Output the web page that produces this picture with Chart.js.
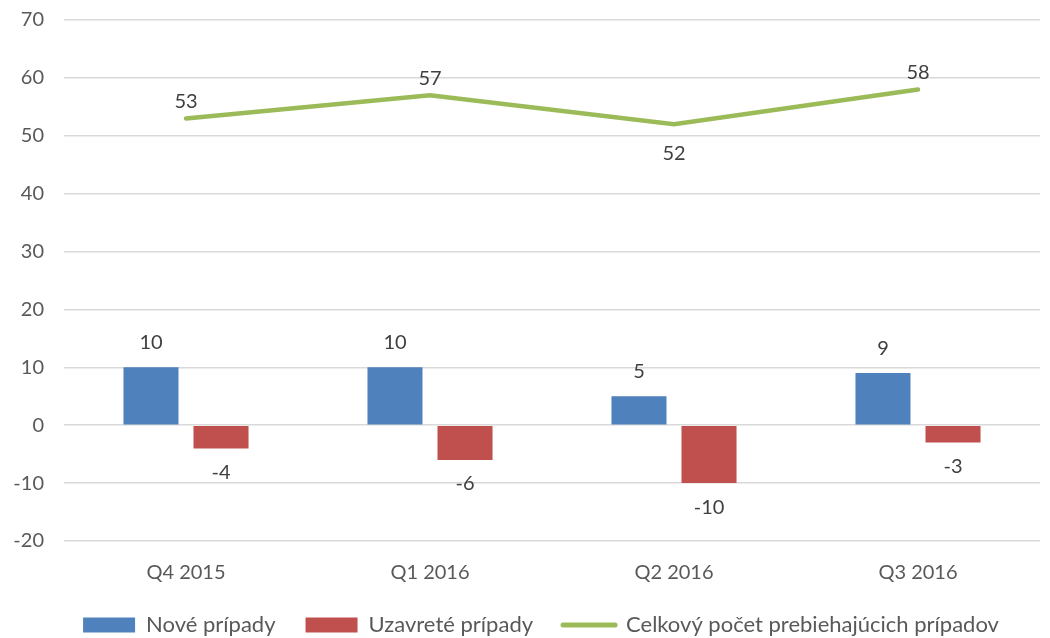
<!DOCTYPE html>
<html>
<head>
<meta charset="utf-8">
<script src="https://cdn.jsdelivr.net/npm/chart.js@4/dist/chart.umd.min.js"></script>
<style>
    html, body { margin: 0; padding: 0; background: #fff; }
</style>
</head>
<body>
<canvas id="chart" width="1050" height="638"></canvas>
<script>
// Dáta grafu
const quarters = ['Q4 2015', 'Q1 2016', 'Q2 2016', 'Q3 2016'];
const newCases = [10, 10, 5, 9];
const closedCases = [-4, -6, -10, -3];
const runningCases = [53, 57, 52, 58];
const seriesNames = ['Nové prípady', 'Uzavreté prípady', 'Celkový počet prebiehajúcich prípadov'];
const yMin = -20, yMax = 70, yStep = 10;

const blue = '#4F81BD', red = '#C0504D', green = '#9BBB59';
const fontFamily = 'Lato, "Noto Sans", sans-serif';

Chart.defaults.font.family = fontFamily;
Chart.defaults.font.size = 20;
Chart.defaults.color = '#595959';

// Popisky hodnôt (náhrada za datalabels plugin)
const valueLabels = {
    id: 'valueLabels',
    afterDatasetsDraw(chart) {
        const ctx = chart.ctx;
        ctx.save();
        ctx.font = '20px ' + fontFamily;
        ctx.fillStyle = '#404040';
        ctx.textAlign = 'center';
        ctx.textBaseline = 'middle';
        chart.data.datasets.forEach((ds, i) => {
            const meta = chart.getDatasetMeta(i);
            meta.data.forEach((el, j) => {
                const v = ds.data[j];
                let y;
                if (ds.type === 'line') {
                    const prev = ds.data[j - 1], next = ds.data[j + 1];
                    const isLow = prev !== undefined && next !== undefined && v < prev && v < next;
                    y = isLow ? el.y + 29 : el.y - 17;
                } else {
                    y = v >= 0 ? el.y - 25 : el.y + 24;
                }
                ctx.fillText(String(v), el.x, y);
            });
        });
        ctx.restore();
    }
};

// posun legendy trochu doprava, ako v origináli
const shiftLegend = {
    id: 'shiftLegend',
    afterLayout(chart) {
        chart.legend.left += 21;
        chart.legend.right += 21;
    }
};

new Chart(document.getElementById('chart'), {
    type: 'bar',
    data: {
        labels: quarters,
        datasets: [
            {
                type: 'bar',
                label: seriesNames[0],
                data: newCases,
                backgroundColor: blue,
                categoryPercentage: 0.574,
                barPercentage: 0.786
            },
            {
                type: 'bar',
                label: seriesNames[1],
                data: closedCases,
                backgroundColor: red,
                categoryPercentage: 0.574,
                barPercentage: 0.786
            },
            {
                type: 'line',
                label: seriesNames[2],
                data: runningCases,
                borderColor: green,
                backgroundColor: green,
                borderWidth: 4.5,
                borderCapStyle: 'round',
                tension: 0,
                pointRadius: 0,
                fill: false
            }
        ]
    },
    options: {
        responsive: false,
        animation: false,
        layout: { padding: { left: 0, right: 10, top: 20, bottom: -8 } },
        plugins: {
            tooltip: { enabled: false },
            legend: {
                position: 'bottom',
                labels: {
                    usePointStyle: true,
                    pointStyleWidth: 52,
                    boxHeight: 15,
                    padding: 30,
                    color: '#595959',
                    font: { size: 22 },
                    generateLabels(chart) {
                        return chart.data.datasets.map((ds, i) => ({
                            text: ds.label,
                            datasetIndex: i,
                            fillStyle: ds.type === 'line' ? ds.borderColor : ds.backgroundColor,
                            strokeStyle: ds.type === 'line' ? ds.borderColor : ds.backgroundColor,
                            lineWidth: ds.type === 'line' ? 5 : 0,
                            lineCap: 'round',
                            pointStyle: ds.type === 'line' ? 'line' : 'rect',
                            fontColor: '#595959',
                            hidden: false
                        }));
                    }
                }
            }
        },
        scales: {
            x: {
                grid: { display: false },
                border: { display: false },
                ticks: { padding: 12, color: '#595959' },
                afterFit(scale) { scale.height = 43; }
            },
            y: {
                min: yMin,
                max: yMax,
                ticks: { stepSize: yStep, padding: 20, color: '#595959' },
                grid: { color: '#d9d9d9', lineWidth: 1.5, drawTicks: false },
                border: { display: false },
                afterFit(scale) {
                    scale.width = 64;
                    scale.paddingTop = 0;
                    scale.paddingBottom = 0;
                }
            }
        }
    },
    plugins: [valueLabels, shiftLegend]
});
</script>
</body>
</html>
